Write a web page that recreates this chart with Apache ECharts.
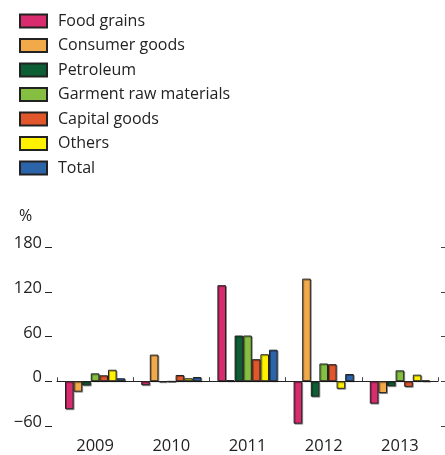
<!DOCTYPE html>
<html>
<head>
<meta charset="utf-8">
<script src="https://cdn.jsdelivr.net/npm/echarts@6/dist/echarts.min.js"></script>
<style>
  html, body { margin: 0; padding: 0; background: #fff; }
  #chart { width: 445px; height: 455px; }
</style>
</head>
<body>
<div id="chart"></div>
<script>
const years = ['2009', '2010', '2011', '2012', '2013']
const yTicks = [-60, 0, 60, 120, 180]

const foodGrains = [-37.5, -5.3, 128.8, -56.9, -30]
const consumerGoods = [-14, 35.7, 1.5, 137.6, -15.9]
const petroleum = [-5.7, -1, 61.3, -20.7, -6.6]
const garmentRaw = [10.6, -0.5, 61.3, 23.8, 14.6]
const capitalGoods = [8, 8.4, 29.6, 22.9, -7.5]
const others = [15.4, 4, 36.2, -10.1, 8.8]
const total = [4, 5.7, 42.3, 9.7, 1]

const seriesList = [
  ['Food grains', foodGrains, '#d82c6f'],
  ['Consumer goods', consumerGoods, '#f2a94a'],
  ['Petroleum', petroleum, '#0d5e34'],
  ['Garment raw materials', garmentRaw, '#84bf41'],
  ['Capital goods', capitalGoods, '#e2562c'],
  ['Others', others, '#fff100'],
  ['Total', total, '#2b64a8'],
]

const font = '"Open Sans", sans-serif'
const chart = echarts.init(document.getElementById('chart'))

chart.setOption({
  animation: false,
  title: {
    text: '%',
    left: 14,
    top: 203,
    textStyle: { fontFamily: font, fontSize: 16, fontWeight: 'normal', color: '#222' },
  },
  legend: {
    orient: 'vertical',
    left: 14,
    top: 8,
    itemWidth: 27,
    itemHeight: 13,
    itemGap: 8.5,
    icon: 'rect',
    textStyle: { fontFamily: font, fontSize: 16, color: '#222', padding: [0, 0, 0, 6] },
    data: seriesList.map(s => s[0]),
  },
  grid: { left: 57, right: 7, top: 247, bottom: 27 },
  xAxis: [
    {
      type: 'category',
      data: years,
      position: 'bottom',
      axisLine: { show: false, onZero: false },
      axisTick: { show: false },
      axisLabel: { fontFamily: font, fontSize: 16.5, color: '#222', margin: 12 },
    },
    {
      type: 'category',
      data: years,
      position: 'top',
      axisLine: { onZero: true, lineStyle: { color: '#222', width: 1 } },
      axisTick: { show: true, length: 4, lineStyle: { color: '#444' } },
      axisLabel: { show: false },
    },
  ],
  yAxis: [
    {
      type: 'value',
      min: -60,
      max: 180,
      interval: 60,
      offset: 5,
      splitLine: { show: false },
      axisLine: { show: false },
      axisTick: { show: true, length: 7, lineStyle: { color: '#222' } },
      axisLabel: {
        fontFamily: font,
        fontSize: 16.5,
        color: '#222',
        margin: 10,
        verticalAlign: 'bottom',
        padding: [0, 0, -5, 0],
        formatter: v => (yTicks.includes(v) ? String(v).replace('-', '\u2212') : ''),
      },
    },
    {
      type: 'value',
      min: -60,
      max: 180,
      interval: 60,
      position: 'right',
      offset: 3,
      splitLine: { show: false },
      axisLine: { show: false },
      axisTick: { show: true, length: 4, lineStyle: { color: '#444' } },
      axisLabel: { show: false },
    },
  ],
  series: seriesList.map(([name, data, color]) => ({
    name,
    type: 'bar',
    data,
    xAxisIndex: 0,
    yAxisIndex: 0,
    barGap: '0%',
    barCategoryGap: '21%',
    itemStyle: {
      color,
      borderColor: '#222',
      borderWidth: 1,
      shadowColor: 'rgba(0,0,0,0.35)',
      shadowOffsetX: 1,
      shadowOffsetY: 1,
    },
  })),
})
</script>
</body>
</html>
